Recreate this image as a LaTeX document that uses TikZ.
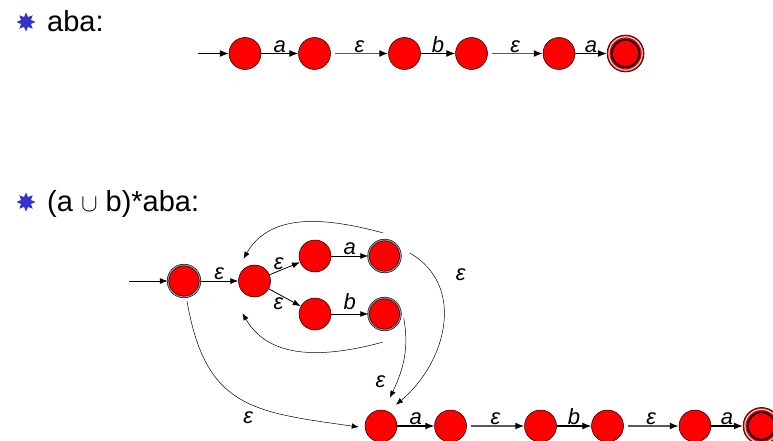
\documentclass[tikz,border=0pt]{standalone}
\usepackage{fontspec}
\setmainfont{Liberation Sans}
\usetikzlibrary{arrows.meta,positioning,shapes.geometric}
\definecolor{StateRed}{HTML}{FF0000}
\definecolor{BulletBlue}{HTML}{3333CC}
\definecolor{EpsGray}{HTML}{5A5A5A}
\definecolor{RingGray}{HTML}{8C8C8C}
\tikzset{
  statenode/.style={circle,draw=black,line width=0.5pt,fill=StateRed,minimum size=32pt,inner sep=0pt},
  ringnode/.style={statenode,double=RingGray,double distance=1.2pt},
  acceptnode/.style={circle,draw=black,line width=0.6pt,fill=StateRed,minimum size=37pt,inner sep=0pt,
    path picture={\draw[white,line width=0.9pt] (path picture bounding box.center) circle (16.7pt);
      \draw[black,line width=1.8pt] (path picture bounding box.center) circle (13.8pt);}},
  bullet/.style={star,star points=8,star point ratio=1.8,fill=BulletBlue,draw=none,minimum size=19pt,inner sep=0pt},
  heading/.style={anchor=base west,font=\fontsize{29}{32}\selectfont,inner sep=0pt},
  symarrow/.style={-{Latex[length=9pt,width=7pt]},line width=1.1pt,draw=black},
  epsarrow/.style={-{Latex[length=9pt,width=7pt,color=black]},line width=1.4pt,draw=EpsGray,shorten <=4pt},
  thinarrow/.style={-{Latex[length=8pt,width=6pt]},line width=0.8pt,draw=black},
  looparrow/.style={-{Latex[length=7pt,width=5.5pt]},line width=0.5pt,draw=black},
  lbl/.style={font=\fontsize{22}{24}\selectfont\itshape,inner sep=0.5pt}
}
\begin{document}
\begin{tikzpicture}[x=1pt,y=1pt,node distance=37pt]
\useasboundingbox (0,0) rectangle (773,-441);
\node[bullet] (star1) at (26,-22) {};
\node[heading] (title1) at (47,-32) {aba:};
\node[bullet] (star2) at (26,-202) {};
\node[heading] (title2) at (47,-211) {(a $\cup$ b)*aba:};

\node[statenode] (q0) at (245,-53.5) {};
\node[statenode,right=37pt of q0] (q1) {};
\node[statenode,right=57.5pt of q1] (q2) {};
\node[statenode,right=34.5pt of q2] (q3) {};
\node[statenode,right=55pt of q3] (q4) {};
\node[acceptnode,right=31.5pt of q4] (q5) {};
\coordinate[left=31pt of q0] (in0);
\draw[symarrow] (in0) -- (q0);
\draw[symarrow] (q0) -- node[lbl,above] {a} (q1);
\draw[epsarrow] (q1) -- node[lbl,above] {ε} (q2);
\draw[symarrow] (q2) -- node[lbl,above] {b} (q3);
\draw[epsarrow] (q3) -- node[lbl,above] {ε} (q4);
\draw[symarrow] (q4) -- node[lbl,above] {a} (q5);

\node[ringnode] (s0) at (184,-281) {};
\node[statenode,right=38pt of s0] (e0) {};
\node[statenode,right=28pt of e0,yshift=25pt] (a1) {};
\node[ringnode,right=37pt of a1] (a2) {};
\node[statenode,right=28pt of e0,yshift=-33pt] (b1) {};
\node[ringnode,right=37pt of b1] (b2) {};
\coordinate[left=39pt of s0] (in1);
\draw[thinarrow] (in1) -- (s0);
\draw[thinarrow] (s0) -- node[lbl,above] {ε} (e0);
\draw[thinarrow] (e0) -- node[lbl,pos=0.3,above] {ε} (a1);
\draw[thinarrow] (e0) -- node[lbl,pos=0.3,below=3pt] {ε} (b1);
\draw[thinarrow] (a1) -- node[lbl,above] {a} (a2);
\draw[thinarrow] (b1) -- node[lbl,above=3pt] {b} (b2);

\node[statenode] (c1) at (381,-426) {};
\node[statenode,right=37pt of c1] (c2) {};
\node[statenode,right=57.5pt of c2] (c3) {};
\node[statenode,right=34.5pt of c3] (c4) {};
\node[statenode,right=55pt of c4] (c5) {};
\node[acceptnode,right=31.5pt of c5] (c6) {};
\draw[symarrow] (c1) -- node[lbl,above] {a} (c2);
\draw[epsarrow] (c2) -- node[lbl,above] {ε} (c3);
\draw[symarrow] (c3) -- node[lbl,above] {b} (c4);
\draw[epsarrow] (c4) -- node[lbl,above] {ε} (c5);
\draw[symarrow] (c5) -- node[lbl,above] {a} (c6);

\draw[looparrow] ([xshift=-2pt,yshift=7pt]a2.north) to[out=165,in=60] ([xshift=-11pt,yshift=6pt]e0.north);
\draw[looparrow] ([xshift=-2pt,yshift=-12pt]b2.south) to[out=195,in=-60] ([xshift=-12pt,yshift=-16pt]e0.south);
\draw[looparrow] ([xshift=9pt,yshift=3pt]a2.east) to[out=-30,in=40,looseness=1.1] node[lbl,pos=0.18,right=22pt] {ε} ([xshift=15pt,yshift=5pt]c1.north);
\draw[looparrow] ([xshift=3pt,yshift=-4pt]b2.east) to[out=-80,in=65] node[lbl,pos=0.8,left=11pt] {ε} ([xshift=9pt,yshift=12pt]c1.north);
\draw[looparrow] ([xshift=3pt,yshift=-4pt]s0.south) to[out=-80,in=172,looseness=1.3] node[lbl,pos=0.55,below=8pt] {ε} ([xshift=-6pt,yshift=-1pt]c1.west);
\end{tikzpicture}
\end{document}
